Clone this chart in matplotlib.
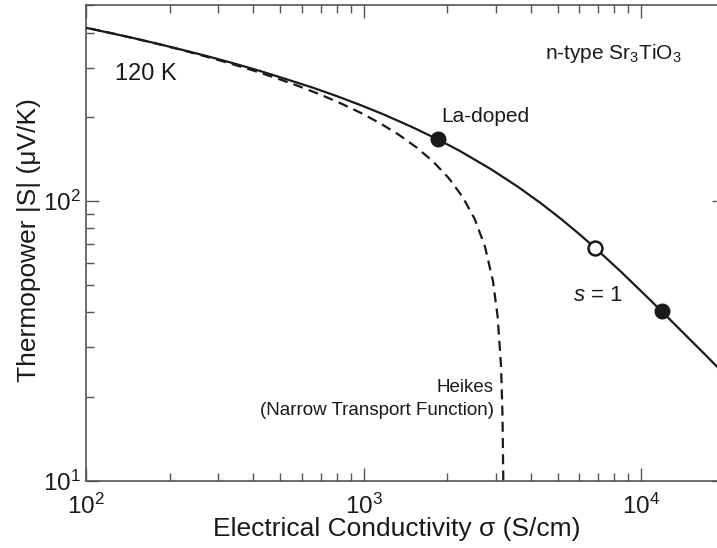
import matplotlib
matplotlib.use("Agg")
import matplotlib.pyplot as plt
from matplotlib.ticker import LogLocator, NullFormatter

plt.rcParams['font.family'] = ['Liberation Sans', 'DejaVu Sans']
plt.rcParams['mathtext.fontset'] = 'custom'
plt.rcParams['mathtext.rm'] = 'Liberation Sans'
plt.rcParams['mathtext.it'] = 'Liberation Sans:italic'

# s = 1 transport curve, conductivity (S/cm) vs |S| (uV/K)
sigma_s1 = [100, 121, 147, 178, 215, 271, 341, 427, 531, 656, 803, 976,
            1175, 1497, 1870, 2226, 2884, 3605, 4371, 5167, 5983, 6811,
            8486, 10174, 11867, 13561, 15255, 16950, 18645, 20340]
seebeck_s1 = [416, 399.7, 383, 366.5, 350, 330.3, 310.5, 291.1, 272, 254.4, 237, 220.3,
              204.5, 183.9, 165.3, 151, 129.9, 112.4, 98.0, 86.1, 76.3, 68.2,
              55.8, 46.9, 40.4, 35.4, 31.5, 28.4, 25.8, 23.6]

# Heikes limit (narrow transport function)
sigma_heikes = [103.6, 126.1, 153.4, 186.4, 226.1, 273.9, 331.3, 400, 481.7, 578.3,
                691.7, 823.8, 976.1, 1149.5, 1344, 1558, 1789, 2031, 2277, 2517,
                2738, 2928, 3041, 3129, 3168, 3189]
seebeck_heikes = [413.6, 396.4, 379.1, 361.9, 344.7, 327.4, 310.2, 293.0, 275.7, 258.5,
                  241.3, 224.0, 206.8, 189.6, 172.3, 155.1, 137.9, 120.6, 103.4, 86.2,
                  68.9, 51.7, 38.8, 25.9, 17.2, 10.0]

# La-doped samples
sigma_filled = [1850, 11850]
seebeck_filled = [167, 40.4]
sigma_open = [6850]
seebeck_open = [68]

ink = '#1a1a1a'
fig = plt.figure(figsize=(7.17, 5.48), dpi=100)
ax = fig.add_axes([0.1199, 0.1223, 0.8907, 0.8677])

ax.plot(sigma_s1, seebeck_s1, color=ink, lw=1.6, zorder=3)
ax.plot(sigma_heikes, seebeck_heikes, color=ink, lw=1.6, ls=(0, (4.5, 2.8)), zorder=2)
ax.plot(sigma_filled, seebeck_filled, 'o', color=ink, ms=10.5, zorder=4)
ax.plot(sigma_open, seebeck_open, 'o', mfc='white', mec=ink, mew=1.8, ms=10, zorder=4)

ax.set_xscale('log')
ax.set_yscale('log')
ax.set_xlim(100, 20000)
ax.set_ylim(10, 500)

for a in (ax.xaxis, ax.yaxis):
    a.set_major_locator(LogLocator(base=10))
    a.set_minor_locator(LogLocator(base=10, subs=range(2, 10)))
    a.set_minor_formatter(NullFormatter())

for sp in ax.spines.values():
    sp.set_color('#555555')
    sp.set_linewidth(1.2)
ax.tick_params(which='both', direction='in', top=True, right=True,
               color='#555555', width=1.0, labelsize=17.5, labelcolor=ink)
ax.tick_params(which='major', length=9.5)
ax.tick_params(which='minor', length=5.5)
ax.tick_params(axis='x', which='major', pad=9)
ax.tick_params(axis='y', which='major', pad=4)

ax.set_xlabel('Electrical Conductivity σ (S/cm)', fontsize=19, color=ink, labelpad=0)
ax.set_ylabel('Thermopower |S| (μV/K)', fontsize=19, color=ink, labelpad=2)
ax.xaxis.set_label_coords(0.487, -0.075)
ax.yaxis.set_label_coords(-0.0705, 0.507)

ax.text(127, 284, '120 K', fontsize=17, color=ink, ha='left', va='center')
ax.text(4510, 321, r'n-type Sr$_3$TiO$_3$', fontsize=15, color=ink, ha='left', va='baseline')
ax.text(1901, 192, 'La-doped', fontsize=15, color=ink, ha='left', va='baseline')
ax.text(5690, 44.1, r'$\mathit{s}$ = 1', fontsize=16, color=ink, ha='left', va='baseline')
ax.text(2930, 20.8, 'Heikes', fontsize=13.5, color=ink, ha='right', va='baseline')
ax.text(2950, 17.2, '(Narrow Transport Function)', fontsize=13.5, color=ink,
        ha='right', va='baseline')

fig.savefig('out.png', dpi=100)
